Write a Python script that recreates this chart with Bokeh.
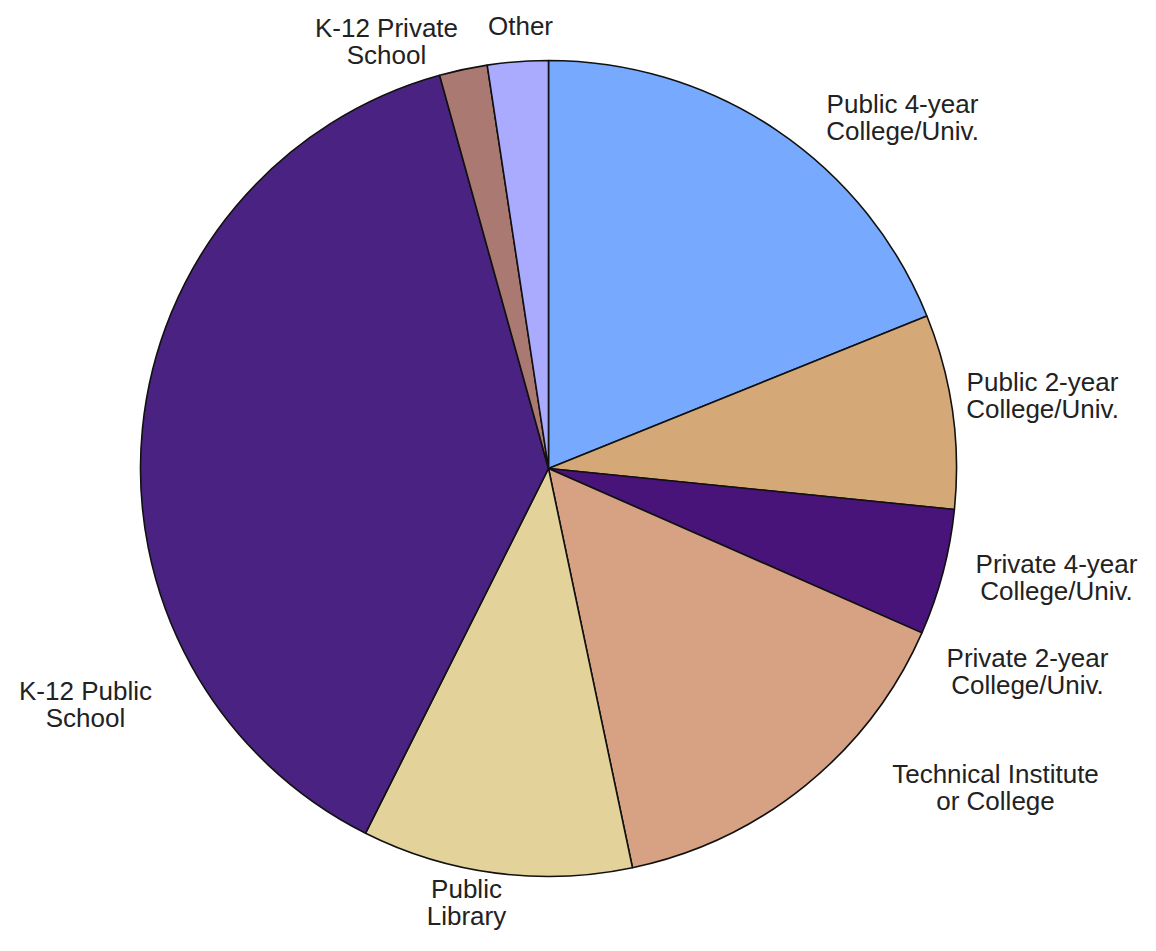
import math
from bokeh.plotting import figure
from bokeh.models import Range1d, ColumnDataSource
from bokeh.core.properties import value
from bokeh.embed import file_html
from bokeh.resources import INLINE

# ---- data ----
categories = [
    "Public 4-year\nCollege/Univ.",
    "Public 2-year\nCollege/Univ.",
    "Private 4-year\nCollege/Univ.",
    "Private 2-year\nCollege/Univ.",
    "Technical Institute\nor College",
    "Public\nLibrary",
    "K-12 Public\nSchool",
    "K-12 Private\nSchool",
    "Other",
]
shares = [18.9, 7.7, 5.0, 0.0, 15.1, 10.7, 38.3, 1.9, 2.4]
colors = ["#77AAFF", "#D5A977", "#48147A", "#D8C08A", "#D6A283",
          "#E3D29A", "#4A2382", "#AA7A72", "#AAAAFF"]

# label anchor positions (px of block centre, from top-left)
label_x = [902, 1042, 1056, 1027, 995, 466, 85, 386, 520]
label_y = [117, 395, 577, 671, 787, 902, 704, 41, 25]

# ---- layout ----
W, H = 1140, 935
REF_H = 951
cx, cy, R = 548, REF_H - 468, 408

p = figure(width=W, height=H, output_backend="svg", toolbar_location=None,
           x_range=Range1d(0, W), y_range=Range1d(REF_H - H, REF_H),
           min_border=0)
p.axis.visible = False
p.grid.visible = False
p.outline_line_color = None
p.background_fill_color = "white"

total = sum(shares)
starts, ends, cols = [], [], []
cum = 0.0
for s, c in zip(shares, colors):
    a0 = cum / total * 2 * math.pi
    cum += s
    a1 = cum / total * 2 * math.pi
    if s > 0:
        starts.append(math.pi / 2 - a0)
        ends.append(math.pi / 2 - a1)
        cols.append(c)

src = ColumnDataSource(dict(x=[cx] * len(starts), y=[cy] * len(starts),
                            start=starts, end=ends, color=cols))
p.wedge(x="x", y="y", radius=R, start_angle="start", end_angle="end",
        direction="clock", fill_color="color", line_color="#111111",
        line_width=1.6, source=src)

lsrc = ColumnDataSource(dict(x=label_x, y=[REF_H - v for v in label_y],
                             text=categories))
p.text(x="x", y="y", text="text", source=lsrc,
       text_font=value("Liberation Sans"), text_font_size="26px",
       text_color="#222222", text_align="center", text_baseline="middle",
       text_line_height=0.92)

open("out.html", "w").write(file_html(p, INLINE))
